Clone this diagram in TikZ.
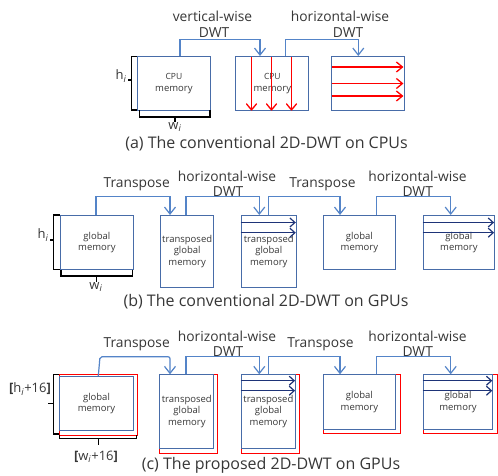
\documentclass[tikz,border=0pt]{standalone}
\usepackage{fontspec}
\setmainfont{Open Sans}
\usetikzlibrary{arrows.meta,calc}
\definecolor{boxblue}{RGB}{72,108,168}
\definecolor{connblue}{RGB}{84,132,200}
\definecolor{navy}{RGB}{30,52,120}
\definecolor{txt}{RGB}{55,55,55}
\definecolor{myred}{RGB}{255,0,0}
\tikzset{
  box/.style={draw=boxblue, line width=1.1pt, inner sep=0pt, anchor=north west, minimum width=#1},
  boxtext/.style={inner sep=0pt, align=center, text=txt, font=\fontsize{9.5}{11.5}\selectfont},
  redbox/.style={draw=myred, line width=1.1pt, inner sep=0pt, anchor=north west},
  conn/.style={draw=connblue, line width=1.2pt, -{Straight Barb[length=7pt,width=11pt,line width=1.2pt]}},
  redarr/.style={draw=myred, line width=1.5pt, -{Straight Barb[length=6pt,width=10pt,line width=1.3pt]}},
  redtip/.style={draw=myred, line width=1.3pt, line cap=round, line join=round},
  navyarr/.style={navy, line width=1.2pt, -{Straight Barb[length=5pt,width=9pt,line width=1.2pt]}},
  brk/.style={draw=black, line width=1.2pt},
  lbl/.style={text=txt, inner sep=0pt, font=\fontsize{13.8}{17}\selectfont},
  captext/.style={text=txt, inner sep=0pt, font=\fontsize{16}{17}\selectfont},
  dimtext/.style={text=txt, inner sep=0pt, font=\fontsize{13}{14}\selectfont},
}
\begin{document}
\begin{tikzpicture}[x=1pt,y=-1pt]
\path[use as bounding box, fill=white] (0,0) rectangle (498,476);

% ---------------- boxes (a) ----------------
\node[box=73.3pt, minimum height=54.3pt] (a1) at (136.7,56) {};
\node[box=73pt, minimum height=54.3pt] (a2) at (235.3,56) {};
\node[box=73.3pt, minimum height=54.3pt] (a3) at (331,56) {};
% ---------------- boxes (b) ----------------
\node[box=72.7pt, minimum height=54.3pt] (b1) at (60,215) {};
\node[box=53.3pt, minimum height=71.7pt] (b2) at (160,215) {};
\node[box=55pt, minimum height=71.7pt] (b3) at (240.7,215) {};
\node[box=72.3pt, minimum height=54.3pt] (b4) at (322.7,215) {};
\node[box=71.3pt, minimum height=54.3pt] (b5) at (422.7,215) {};
% ---------------- boxes (c) ----------------
\node[redbox, minimum width=77.4pt, minimum height=60.7pt] (r1) at (59.3,374.3) {};
\node[redbox, minimum width=58pt, minimum height=78.4pt] (r2) at (159.3,374.3) {};
\node[redbox, minimum width=58.3pt, minimum height=78.4pt] (r3) at (240.7,374.3) {};
\node[redbox, minimum width=77.3pt, minimum height=59pt] (r4) at (322.7,374.3) {};
\node[redbox, minimum width=74pt, minimum height=59pt] (r5) at (422.7,374.3) {};
\node[box=73.3pt, minimum height=54pt] (c1) at (59.3,376) {};
\node[box=54pt, minimum height=73.3pt] (c2) at (159.3,374.3) {};
\node[box=54.3pt, minimum height=73.3pt] (c3) at (240.7,374.3) {};
\node[box=72.3pt, minimum height=54.7pt] (c4) at (322.7,374.3) {};
\node[box=69.5pt, minimum height=54.7pt] (c5) at (422.7,374.3) {};

% ---------------- box texts ----------------
\node[boxtext] (ta1) at (a1.center) {{\fontsize{8.5}{11}\selectfont CPU}\\memory};
\node[boxtext] (ta2) at (a2.center) {{\fontsize{8.5}{11}\selectfont CPU}\\memory};
\node[boxtext] (tb1) at (b1.center) {global\\memory};
\node[boxtext] (tb2) at (b2.center) {transposed\\global\\memory};
\node[boxtext] (tb3) at (b3.center) {transposed\\global\\memory};
\node[boxtext] (tb4) at (b4.center) {global\\memory};
\node[boxtext] (tb5) at (b5.center) {global\\memory};
\node[boxtext] (tc1) at (c1.center) {global\\memory};
\node[boxtext] (tc2) at (c2.center) {transposed\\global\\memory};
\node[boxtext] (tc3) at (c3.center) {transposed\\global\\memory};
\node[boxtext] (tc4) at (c4.center) {global\\memory};
\node[boxtext] (tc5) at (c5.center) {global\\memory};

% ---------------- inner arrows ----------------
\fill[myred] ($(a2.north west)+(15.5,0.6)$) rectangle ($(a2.south west)+(17,-1.5)$);
\fill[myred] ($(a2.north west)+(35.5,0.6)$) rectangle ($(a2.south west)+(37,-1.5)$);
\fill[myred] ($(a2.north west)+(55.5,0.6)$) rectangle ($(a2.south west)+(57,-1.5)$);
\draw[redtip] ($(a2.south west)+(11.2,-7.5)$) -- ($(a2.south west)+(16.2,-1.5)$) -- ($(a2.south west)+(21.2,-7.5)$);
\draw[redtip] ($(a2.south west)+(31.2,-7.5)$) -- ($(a2.south west)+(36.2,-1.5)$) -- ($(a2.south west)+(41.2,-7.5)$);
\draw[redtip] ($(a2.south west)+(51.2,-7.5)$) -- ($(a2.south west)+(56.2,-1.5)$) -- ($(a2.south west)+(61.2,-7.5)$);
\draw[redarr] ($(a3.north west)+(0.6,11)$) -- ($(a3.north east)+(-2,11)$);
\draw[redarr] ($(a3.north west)+(0.6,27.5)$) -- ($(a3.north east)+(-2,27.5)$);
\draw[redarr] ($(a3.north west)+(0.6,40)$) -- ($(a3.north east)+(-2,40)$);
\draw[navyarr] ($(b3.north west)+(0,7.5)$) -- ($(b3.north east)+(-1,7.5)$);
\draw[navyarr] ($(b3.north west)+(0,17.7)$) -- ($(b3.north east)+(-1,17.7)$);
\draw[navyarr] ($(b5.north west)+(0,7.5)$) -- ($(b5.north east)+(-1,7.5)$);
\draw[navyarr] ($(b5.north west)+(0,17.7)$) -- ($(b5.north east)+(-1,17.7)$);
\draw[navyarr] ($(c3.north west)+(0,6.4)$) -- ($(c3.north east)+(-1,6.4)$);
\draw[navyarr] ($(c3.north west)+(0,16.4)$) -- ($(c3.north east)+(-1,16.4)$);
\draw[navyarr] ($(c5.north west)+(0,6.4)$) -- ($(c5.north east)+(-1,6.4)$);
\draw[navyarr] ($(c5.north west)+(0,16.4)$) -- ($(c5.north east)+(-1,16.4)$);

% ---------------- connectors ----------------
\draw[conn] ($(a1.north west)+(43.3,0)$) -- ++(0,-16.7) -| ($(a2.north west)+(24.7,0)$);
\draw[conn] ($(a2.north west)+(50.4,0)$) -- ++(0,-16.7) -| ($(a3.north west)+(27.3,0)$);
\draw[conn] ($(b1.north west)+(36,0)$) -- ++(0,-18.3) -| ($(b2.north west)+(10,0)$);
\draw[conn] ($(b2.north west)+(26,0)$) -- ++(0,-18.3) -| ($(b3.north west)+(18.6,0)$);
\draw[conn] ($(b3.north west)+(27.6,0)$) -- ++(0,-18.3) -| ($(b4.north west)+(17.3,0)$);
\draw[conn] ($(b4.north west)+(54,0)$) -- ++(0,-18.3) -| ($(b5.north west)+(28,0)$);
\draw[conn, rounded corners=2pt] ($(c1.north west)+(39,0)$) -- ++(1.7,-19.3) -| ($(c2.north west)+(10.7,0)$);
\draw[conn] ($(c2.north west)+(26.7,0)$) -- ++(0,-17.6) -| ($(c3.north west)+(18.6,0)$);
\draw[conn] ($(c3.north west)+(27.6,0)$) -- ++(0,-17.6) -| ($(c4.north west)+(17.3,0)$);
\draw[conn] ($(c4.north west)+(54,0)$) -- ++(0,-17.6) -| ($(c5.north west)+(28,0)$);

% ---------------- brackets ----------------
\draw[brk] (136.5,56.7) -- (131.7,56.7) -- (131.7,110) -- (136.5,110);
\draw[brk] (131.7,80) -- (128.3,80);
\draw[brk] (139.3,110.5) -- (139.3,117) -- (210,117) -- (210,110.5);
\draw[brk] (175,117) -- (175,122);
\draw[brk] (59.5,215) -- (53.3,215) -- (53.3,269.3) -- (59.5,269.3);
\draw[brk] (53.3,240) -- (49.5,240);
\draw[brk] (61,270) -- (61,276) -- (132.7,276) -- (132.7,270);
\draw[brk] (96.7,276) -- (96.7,282);
\draw[brk] (59,374.3) -- (53.3,374.3) -- (53.3,434) -- (59,434);
\draw[brk] (53.3,403.3) -- (48.3,403.3);
\draw[brk] (59.3,434.5) -- (59.3,438.3) -- (136.7,438.3) -- (136.7,434.5);
\draw[brk] (98.3,438.3) -- (98.3,445);

% ---------------- labels ----------------
\node[lbl] (la1) at (212.5,16) {vertical-wise};
\node[lbl] (la2) at (214,33) {DWT};
\node[lbl] (la3) at (340,16) {horizontal-wise};
\node[lbl] (la4) at (348,33) {DWT};
\node[lbl] (lb1) at (136.7,184) {Transpose};
\node[lbl] (lb2) at (227,176.7) {horizontal-wise};
\node[lbl] (lb3) at (228,191.7) {DWT};
\node[lbl] (lb4) at (322.5,184) {Transpose};
\node[lbl] (lb5) at (417.5,176.7) {horizontal-wise};
\node[lbl] (lb6) at (417.7,191.7) {DWT};
\node[lbl] (lc1) at (136.7,344) {Transpose};
\node[lbl] (lc2) at (227,336) {horizontal-wise};
\node[lbl] (lc3) at (228,351.7) {DWT};
\node[lbl] (lc4) at (320.5,344) {Transpose};
\node[lbl] (lc5) at (417.5,336) {horizontal-wise};
\node[lbl] (lc6) at (417.7,351.7) {DWT};
\node[dimtext] (ha) at (121,76) {h\textsubscript{\textit{i}}};
\node[dimtext] (wa) at (175,127) {w\textsubscript{\textit{i}}};
\node[dimtext] (hb) at (43,235) {h\textsubscript{\textit{i}}};
\node[dimtext] (wb) at (96,287) {w\textsubscript{\textit{i}}};
\node[dimtext] (hc) at (30,389) {\textbf{[}h\textsubscript{\textit{i}}+16\textbf{]}};
\node[dimtext] (wc) at (96,457) {\textbf{[}w\textsubscript{\textit{i}}+16\textbf{]}};
\node[captext] (capa) at (266.5,144) {(a) The conventional 2D-DWT on CPUs};
\node[captext] (capb) at (266,301.7) {(b) The conventional 2D-DWT on GPUs};
\node[captext] (capc) at (271,465) {(c) The proposed 2D-DWT on GPUs};
\end{tikzpicture}
\end{document}
